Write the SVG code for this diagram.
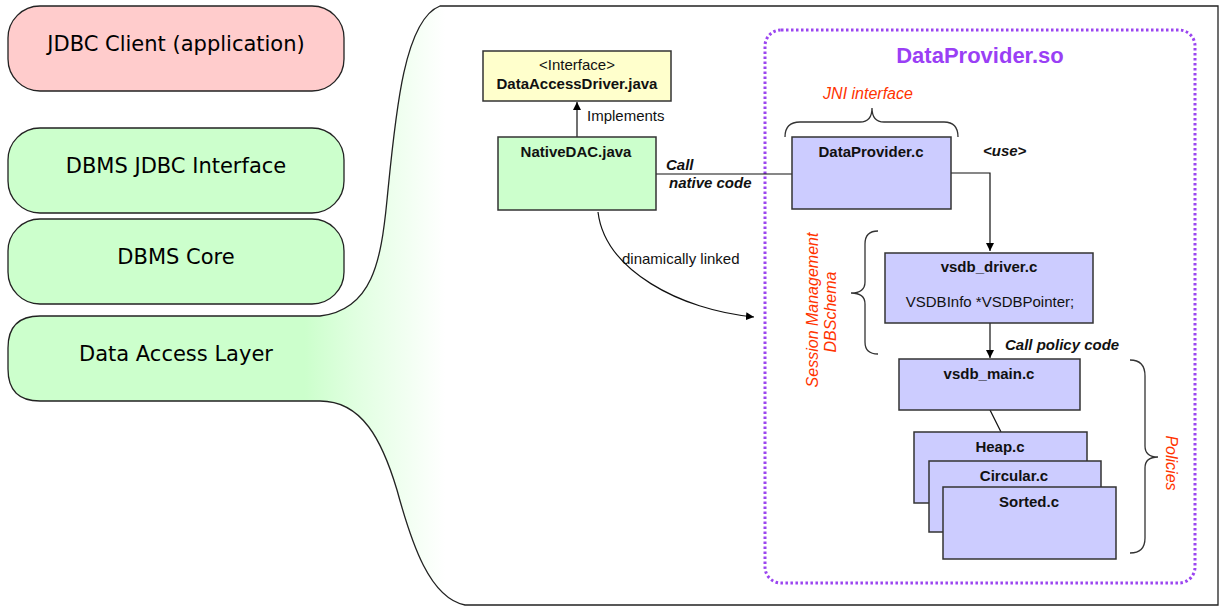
<svg xmlns="http://www.w3.org/2000/svg" width="1220" height="606" viewBox="0 0 1220 606">
<defs>
<linearGradient id="fade" gradientUnits="userSpaceOnUse" x1="305" y1="0" x2="445" y2="0">
<stop offset="0" stop-color="#ccffcc"/>
<stop offset="0.35" stop-color="#e0ffe0"/>
<stop offset="1" stop-color="#ffffff"/>
</linearGradient>
<marker id="arr" markerUnits="userSpaceOnUse" markerWidth="10" markerHeight="10" refX="8" refY="4" orient="auto">
<path d="M0,0 L8,4 L0,8 Z" fill="#000"/>
</marker>
</defs>
<style>
.layer{stroke:#222;stroke-width:1.3}
.lt{font-family:"DejaVu Sans",sans-serif;font-size:21px;fill:#000;text-anchor:middle}
.box{stroke:#333;stroke-width:1.5}
.blue{fill:#ccccff}
.b{font-family:"Liberation Sans",Arial,sans-serif;font-size:15px;font-weight:bold;fill:#111;text-anchor:middle}
.r{font-family:"Liberation Sans",Arial,sans-serif;font-size:15px;fill:#111}
.bi{font-family:"Liberation Sans",Arial,sans-serif;font-size:15px;font-weight:bold;font-style:italic;fill:#111}
.red{font-family:"Liberation Sans",Arial,sans-serif;font-size:16px;font-style:italic;fill:#ff3300;text-anchor:middle}
.ln{fill:none;stroke:#111;stroke-width:1.2}
.brace{fill:none;stroke:#333;stroke-width:1.3}
</style>

<g id="data-access-layer">
<path class="layer" fill="url(#fade)" d="M320,401 L40,401 Q8,401 8,369 L8,348 Q8,316 40,316 L320,316 C372,310 381,262 387,200 C395,120 403,20 440,6 L1218,6 L1218,605 L465,605 C430,598 412,545 397,490 C382,440 362,401 320,401 Z"/>
<text class="lt" x="176" y="361">Data Access Layer</text>
</g>
<g id="jdbc-client">
<rect class="layer" x="8" y="6" width="336" height="85" rx="32" fill="#ffcccc"/>
<text class="lt" x="176" y="51">JDBC Client (application)</text>
</g>
<g id="dbms-jdbc-interface">
<rect class="layer" x="8" y="128" width="336" height="85" rx="32" fill="#ccffcc"/>
<text class="lt" x="176" y="173">DBMS JDBC Interface</text>
</g>
<g id="dbms-core">
<rect class="layer" x="8" y="219" width="336" height="85" rx="32" fill="#ccffcc"/>
<text class="lt" x="176" y="264">DBMS Core</text>
</g>

<g id="dataprovider-so">
<rect x="765" y="30" width="430" height="553" rx="16" fill="none" stroke="#9b45f0" stroke-width="3" stroke-dasharray="2.5 2.5"/>
<text x="980" y="63" font-family="Liberation Sans,Arial,sans-serif" font-size="22" font-weight="bold" fill="#9a3ff5" text-anchor="middle">DataProvider.so</text>
</g>

<g id="connectors">
<line class="ln" x1="577" y1="137" x2="577" y2="102" marker-end="url(#arr)"/>
<text class="r" x="587" y="121">Implements</text>
<line class="ln" x1="656" y1="174" x2="792" y2="174"/>
<text class="bi" x="666" y="170">Call</text>
<text class="bi" x="669" y="188">native code</text>
<polyline class="ln" points="951,173 990,173 990,251" marker-end="url(#arr)"/>
<text class="bi" x="983" y="156">&lt;use&gt;</text>
<line class="ln" x1="990" y1="323" x2="990" y2="358" marker-end="url(#arr)"/>
<text class="bi" x="1005" y="350">Call policy code</text>
<line class="ln" x1="990" y1="410" x2="1001" y2="432"/>
<path class="ln" d="M598,212 C605,270 680,310 754,317" marker-end="url(#arr)"/>
<text class="r" x="622" y="264">dinamically linked</text>
</g>

<g id="data-access-driver">
<rect class="box" x="483" y="51" width="188" height="50" fill="#ffffcc"/>
<text class="r" x="577" y="70" text-anchor="middle" font-size="14">&lt;Interface&gt;</text>
<text class="b" x="577" y="89">DataAccessDriver.java</text>
</g>
<g id="native-dac">
<rect class="box" x="498" y="137" width="158" height="73" fill="#ccffcc"/>
<text class="b" x="576" y="157">NativeDAC.java</text>
</g>

<g id="jni-interface">
<path class="brace" d="M785,137 Q785,122 800,122 L860,122 Q872,122 872,108 Q872,122 884,122 L944,122 Q958,122 958,137"/>
<text class="red" x="868" y="99">JNI interface</text>
</g>
<g id="dataprovider-c">
<rect class="box blue" x="792" y="137" width="159" height="72"/>
<text class="b" x="871" y="157">DataProvider.c</text>
</g>

<g id="session-management">
<path class="brace" d="M878,231 Q865,231 865,244 L865,282 Q865,293 851,293 Q865,293 865,304 L865,342 Q865,354 878,354"/>
<text class="red" transform="translate(818,310) rotate(-90)">Session Management</text>
<text class="red" transform="translate(836,312) rotate(-90)">DBSchema</text>
</g>
<g id="vsdb-driver">
<rect class="box blue" x="885" y="253" width="208" height="70"/>
<text class="b" x="989" y="272">vsdb_driver.c</text>
<text class="r" x="990" y="307" text-anchor="middle">VSDBInfo *VSDBPointer;</text>
</g>
<g id="vsdb-main">
<rect class="box blue" x="899" y="359" width="181" height="51"/>
<text class="b" x="989" y="379">vsdb_main.c</text>
</g>
<g id="heap">
<rect class="box blue" x="914" y="432" width="173" height="71"/>
<text class="b" x="1000" y="452">Heap.c</text>
</g>
<g id="circular">
<rect class="box blue" x="929" y="461" width="172" height="71"/>
<text class="b" x="1014" y="481">Circular.c</text>
</g>
<g id="sorted">
<rect class="box blue" x="943" y="487" width="173" height="72"/>
<text class="b" x="1029" y="507">Sorted.c</text>
</g>
<g id="policies">
<path class="brace" d="M1130,360 Q1145,360 1145,376 L1145,446 Q1145,457 1158,457 Q1145,457 1145,468 L1145,538 Q1145,553 1130,553"/>
<text class="red" transform="translate(1166,463) rotate(90)">Policies</text>
</g>
</svg>
